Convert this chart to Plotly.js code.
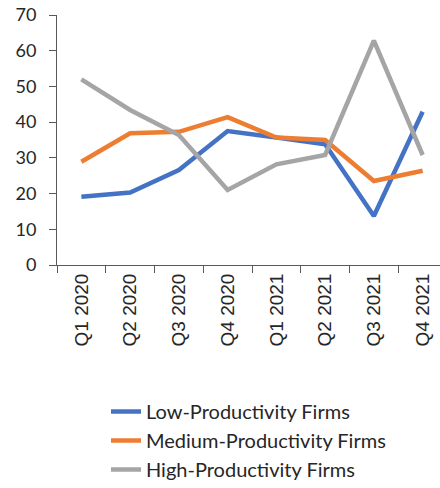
<!DOCTYPE html>
<html>
<head>
<meta charset="utf-8">
<script src="https://cdn.plot.ly/plotly-3.0.1.min.js"></script>
<style>
html,body{margin:0;padding:0;overflow:hidden;background:#fff;}
#chart{width:448px;height:488px;}
</style>
</head>
<body>
<div id="chart"></div>
<script>
const categories = ["Q1 2020","Q2 2020","Q3 2020","Q4 2020","Q1 2021","Q2 2021","Q3 2021","Q4 2021"];
const lowValues = [19.1, 20.3, 26.6, 37.5, 35.7, 33.8, 13.7, 42.9];
const mediumValues = [28.9, 36.9, 37.3, 41.4, 35.7, 35.0, 23.5, 26.4];
const highValues = [52.0, 43.4, 36.4, 21.0, 28.2, 30.8, 62.8, 30.8];
const seriesNames = ["Low-Productivity Firms","Medium-Productivity Firms","High-Productivity Firms"];
const yTicks = [0,10,20,30,40,50,60,70];

const colors = ["#4472C4","#ED7D31","#A5A5A5"];
const vals = [lowValues, mediumValues, highValues];
const traces = vals.map((v,i)=>({
  x: categories, y: v, name: seriesNames[i], type:"scatter", mode:"lines",
  line:{color:colors[i], width:4.5}
}));

const layout = {
  width:448, height:488,
  margin:{l:57, r:1, t:15, b:223, autoexpand:false},
  paper_bgcolor:"#fff", plot_bgcolor:"#fff",
  showlegend:true,
  legend:{
    orientation:"v", xref:"container", yref:"container",
    x:106/448, xanchor:"left", y:1-392/488, yanchor:"top",
    font:{family:"Lato, sans-serif", size:20, color:"#262626"},
    tracegroupgap:0, itemwidth:30
  },
  xaxis:{
    type:"category", tickangle:-90, tickson:"boundaries",
    ticks:"outside", ticklen:7, tickcolor:"#595959",
    showline:true, linecolor:"#595959", linewidth:1,
    showgrid:false, zeroline:false, automargin:false,
    tickfont:{family:"Liberation Sans, Arial, sans-serif", size:19, color:"#262626"},
    range:[-0.5, 7.5]
  },
  yaxis:{
    range:[0,70], tickvals:yTicks, ticks:"outside", ticklen:7, tickcolor:"#595959",
    showline:true, linecolor:"#595959", linewidth:1,
    showgrid:false, zeroline:false, automargin:false,
    tickfont:{family:"Lato, sans-serif", size:18, color:"#262626"},
    ticklabelstandoff:9
  }
};
Plotly.newPlot("chart", traces, layout, {displayModeBar:false, staticPlot:true});
</script>
</body>
</html>
